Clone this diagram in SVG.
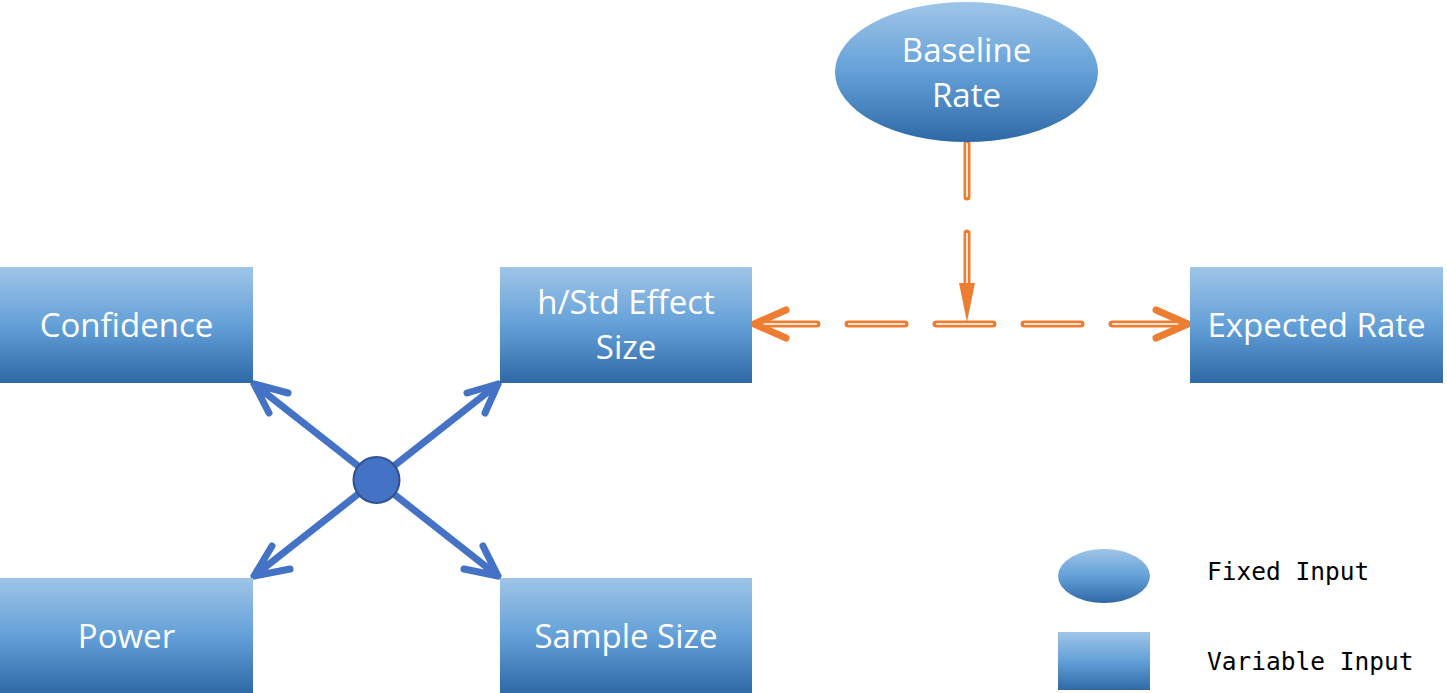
<svg xmlns="http://www.w3.org/2000/svg" width="1447" height="693" viewBox="0 0 1447 693">
<defs>
<linearGradient id="g" x1="0" y1="0" x2="0" y2="1">
<stop offset="0" stop-color="#9fc5e8"/>
<stop offset="0.5" stop-color="#64a0d8"/>
<stop offset="1" stop-color="#2e69a6"/>
</linearGradient>
<style>
.box{fill:url(#g);}
.lbl{font-family:"Open Sans","Noto Sans",sans-serif;font-size:33px;fill:#ffffff;text-anchor:middle;}
.leg{font-family:"DejaVu Sans Mono",monospace;font-size:24.5px;fill:#000000;}
.bl{fill:none;stroke:#4472c4;stroke-width:7;stroke-linecap:round;stroke-linejoin:round;}
.oo{fill:none;stroke:#ed7d31;stroke-width:7;stroke-linecap:round;stroke-linejoin:round;}
.oi{fill:none;stroke:#ffffff;stroke-width:1.6;stroke-linecap:butt;}
</style>
</defs>
<rect width="1447" height="693" fill="#ffffff"/>
<g id="connectors">
<g id="blue">
<path class="bl" d="M376 480 L254 384 M288 393 L254 384 L269 413"/>
<path class="bl" d="M376 480 L498 384 M467 393 L498 384 L485 413"/>
<path class="bl" d="M376 480 L254 576 M272 546 L254 576 L290 569"/>
<path class="bl" d="M376 480 L498 576 M483 546 L498 576 L464 569"/>
</g>
<g id="orange">
<path class="oo" d="M967 143 L967 197 M967 233 L967 284"/>
<path class="oi" d="M967 143 L967 197 M967 233 L967 284"/>
<polygon points="959,283 975,283 967,322" fill="#ed7d31"/>
<path class="oo" d="M757 324 L817 324 M848 324 L905 324 M936 324 L993 324 M1024 324 L1081 324 M1112 324 L1186 324"/>
<path class="oi" d="M760 324 L817 324 M848 324 L905 324 M936 324 L993 324 M1024 324 L1081 324 M1112 324 L1183 324"/>
<path class="oo" d="M786 310 L754 324 L786 338"/>
<path class="oo" d="M1156 310 L1188 324 L1156 338"/>
</g>
</g>
<g id="hub"><circle cx="376.5" cy="480" r="23" fill="#4472c4" stroke="#2f528f" stroke-width="2"/></g>
<g id="baseline">
<ellipse class="box" cx="966.5" cy="72" rx="131.5" ry="70"/>
<text class="lbl" x="966.5" y="62">Baseline</text>
<text class="lbl" x="966.5" y="107">Rate</text>
</g>
<g id="confidence">
<rect class="box" x="0" y="267" width="253" height="116"/>
<text class="lbl" x="126.5" y="337">Confidence</text>
</g>
<g id="effect">
<rect class="box" x="500" y="267" width="252" height="116"/>
<text class="lbl" x="626" y="314">h/Std Effect</text>
<text class="lbl" x="626" y="359">Size</text>
</g>
<g id="expected">
<rect class="box" x="1190" y="267" width="253" height="116"/>
<text class="lbl" x="1316.5" y="337">Expected Rate</text>
</g>
<g id="power">
<rect class="box" x="0" y="578" width="253" height="115"/>
<text class="lbl" x="126.5" y="648">Power</text>
</g>
<g id="sample">
<rect class="box" x="500" y="578" width="252" height="115"/>
<text class="lbl" x="626" y="648">Sample Size</text>
</g>
<g id="legend">
<ellipse class="box" cx="1104" cy="576" rx="46" ry="27"/>
<text class="leg" x="1207" y="580">Fixed Input</text>
<rect class="box" x="1058" y="632" width="92" height="58"/>
<text class="leg" x="1207" y="670">Variable Input</text>
</g>
</svg>
